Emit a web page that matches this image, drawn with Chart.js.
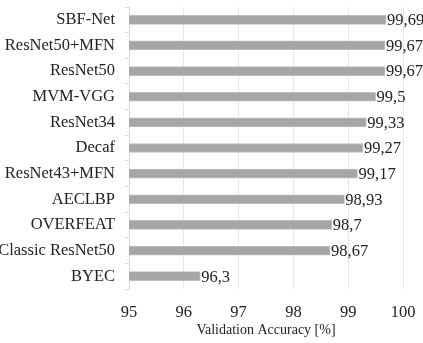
<!DOCTYPE html>
<html>
<head>
<meta charset="utf-8">
<script src="https://cdn.jsdelivr.net/npm/chart.js@4"></script>
<style>
  html, body { margin: 0; padding: 0; background: #fff; }
  #wrap { width: 423px; height: 343px; }
</style>
</head>
<body>
<div id="wrap"><canvas id="myChart" width="423" height="343"></canvas></div>
<script>
// model names, top to bottom
const models = ["SBF-Net", "ResNet50+MFN", "ResNet50", "MVM-VGG", "ResNet34", "Decaf",
  "ResNet43+MFN", "AECLBP", "OVERFEAT", "Classic ResNet50", "BYEC"];
// validation accuracy in %
const accuracy = [99.69, 99.67, 99.67, 99.5, 99.33, 99.27, 99.17, 98.93, 98.7, 98.67, 96.3];
const xTicks = [95, 96, 97, 98, 99, 100];

const serif = "'Liberation Serif', 'Times New Roman', serif";

// draw value labels right of each bar, with decimal comma
const valueLabels = {
  id: "valueLabels",
  afterDatasetsDraw(chart) {
    const ctx = chart.ctx;
    const meta = chart.getDatasetMeta(0);
    ctx.save();
    ctx.font = "16.5px " + serif;
    ctx.fillStyle = "#222";
    ctx.textBaseline = "middle";
    ctx.textAlign = "left";
    meta.data.forEach((bar, i) => {
      const txt = String(accuracy[i]).replace(".", ",");
      ctx.fillText(txt, bar.x + 1, bar.y + 1);
    });
    ctx.restore();
  }
};

const data = {
  labels: models,
  datasets: [{
    data: accuracy,
    backgroundColor: "#a6a6a6",
    borderColor: "#bdbdbd",
    borderWidth: 1,
    barThickness: 9
  }]
};

const config = {
  type: "bar",
  data: data,
  options: {
    indexAxis: "y",
    responsive: false,
    animation: false,
    layout: { padding: { top: 7, right: 20, left: 0, bottom: 0 } },
    plugins: { legend: { display: false }, tooltip: { enabled: false } },
    scales: {
      x: {
        min: 95,
        max: 100,
        afterBuildTicks: (scale) => { scale.ticks = xTicks.map(v => ({ value: v })); },
        afterFit: (scale) => { scale.height = 54; scale.paddingLeft = 0; scale.paddingRight = 0; },
        grid: { color: "#e6e6e6", drawTicks: false },
        border: { display: false },
        ticks: { padding: 14, color: "#222", font: { family: serif, size: 16.5 } },
        title: {
          display: true,
          text: "Validation Accuracy [%]",
          color: "#222",
          font: { family: serif, size: 14 },
          padding: { top: 0, bottom: 4 }
        }
      },
      y: {
        afterFit: (scale) => { scale.width = 129; scale.paddingTop = 0; scale.paddingBottom = 0; },
        grid: { drawOnChartArea: false, color: "#d9d9d9", tickLength: 4, offset: true },
        border: { color: "#d9d9d9" },
        ticks: { padding: 10, color: "#222", font: { family: serif, size: 16.5 } }
      }
    }
  },
  plugins: [valueLabels]
};

let myChart = new Chart(document.getElementById("myChart"), config);
</script>
</body>
</html>
